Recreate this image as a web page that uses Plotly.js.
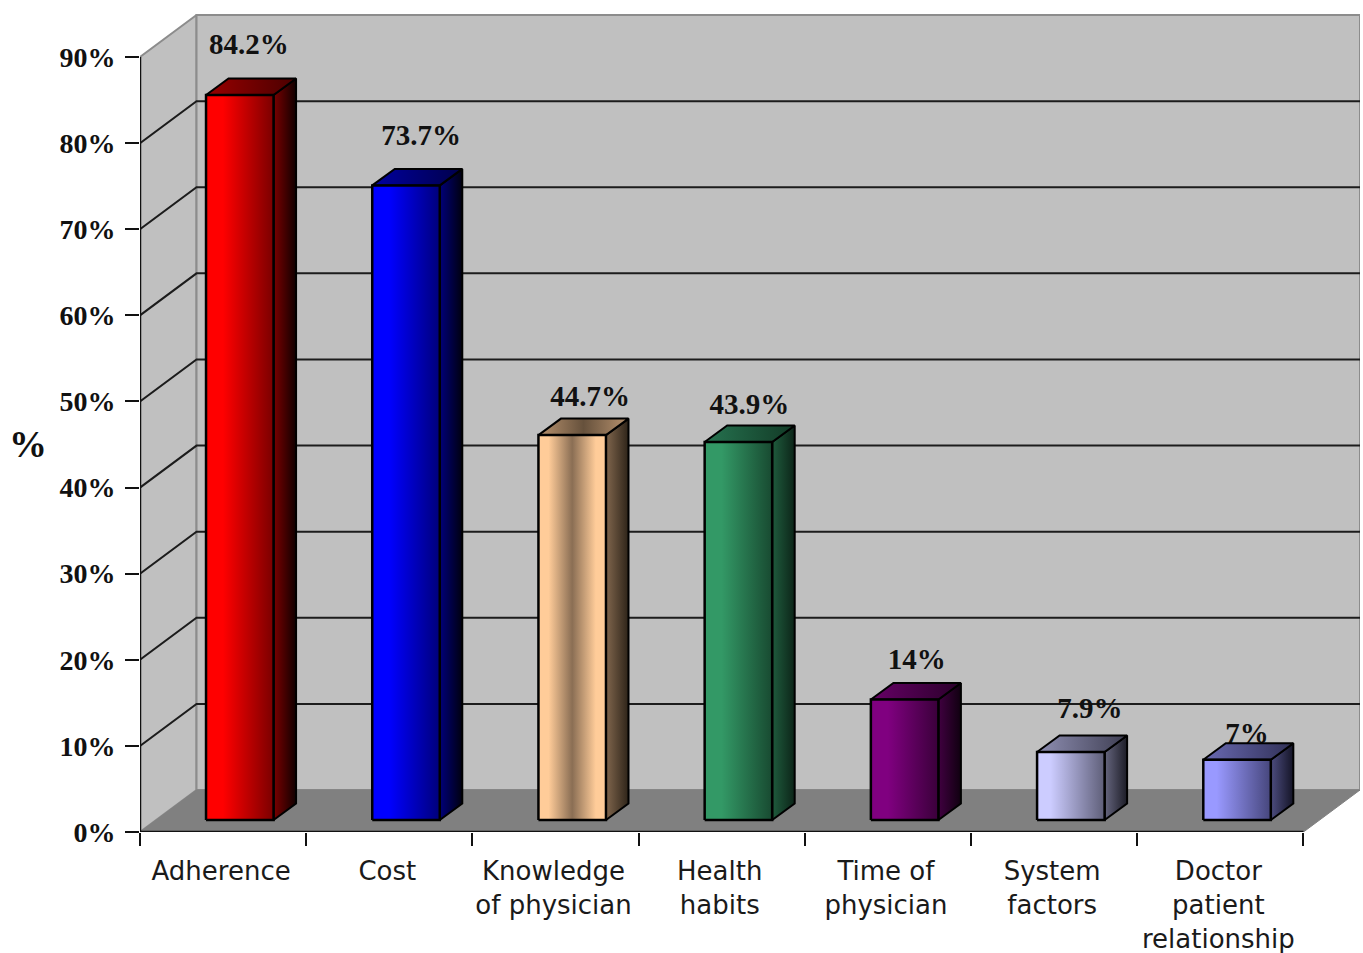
<!DOCTYPE html>
<html>
<head>
<meta charset="utf-8">
<script src="https://cdn.plot.ly/plotly-3.0.1.min.js"></script>
<style>html,body{margin:0;padding:0;background:#fff}#chart{width:1363px;height:953px}</style>
</head>
<body>
<div id="chart"></div>
<script>
// Reported barriers, percent of respondents
const categories = ['Adherence', 'Cost', 'Knowledge<br>of physician', 'Health<br>habits',
  'Time of<br>physician', 'System<br>factors', 'Doctor<br>patient<br>relationship'];
const values = [84.2, 73.7, 44.7, 43.9, 14, 7.9, 7];
const valueLabels = ['84.2%', '73.7%', '44.7%', '43.9%', '14%', '7.9%', '7%'];
const yTicks = [0, 10, 20, 30, 40, 50, 60, 70, 80, 90];
const yTickLabels = ['0%', '10%', '20%', '30%', '40%', '50%', '60%', '70%', '80%', '90%'];

// Colour stops per bar: front face, side face, top face
const frontStops = [
  [[0, '#ff0000'], [0.25, '#ff0000'], [1, '#7a0000']],
  [[0, '#0000ff'], [0.25, '#0000ff'], [1, '#00007a']],
  [[0, '#ffcc99'], [0.15, '#ffcc99'], [0.5, '#8a6e54'], [0.85, '#ffcc99'], [1, '#ffcc99']],
  [[0, '#339966'], [0.25, '#339966'], [1, '#184a31']],
  [[0, '#800080'], [0.25, '#800080'], [1, '#3a003a']],
  [[0, '#ccccff'], [0.2, '#ccccff'], [1, '#5e5e78']],
  [[0, '#9999ff'], [0.2, '#9999ff'], [1, '#46467c']]
];
const sideStops = [
  [[0, '#7a0000'], [1, '#100000']],
  [[0, '#00007a'], [1, '#000010']],
  [[0, '#80664d'], [1, '#2e2419']],
  [[0, '#1f5c3d'], [1, '#0c2418']],
  [[0, '#400040'], [1, '#100010']],
  [[0, '#66667f'], [1, '#1c1c26']],
  [[0, '#4d4d80'], [1, '#141426']]
];
const topStops = [
  [[0, '#990000'], [1, '#4a0000']],
  [[0, '#0000a0'], [1, '#00004a']],
  [[0, '#b8926e'], [0.5, '#66513c'], [1, '#b8926e']],
  [[0, '#267350'], [1, '#123a26']],
  [[0, '#660066'], [1, '#2a002a']],
  [[0, '#8f8fb3'], [1, '#3e3e52']],
  [[0, '#6a6ab3'], [1, '#303056']]
];

// Label placement relative to each bar's top, in pixels
const labelShiftX = [9, 15, 18, 11, 12, 19, 10];
const labelShiftY = [48, 48, 36, 35, 38, 41, 24];

// Pixel scale of the axes and the oblique projection
const pxPerCat = 166.14, pxPerVal = 8.611;
const cx = px => px / pxPerCat, cy = px => px / pxPerVal;
const wallDx = cx(56.5), wallDy = cy(42);
const barInsetX = cx(66), barInsetY = cy(12), barW = cx(67.5);
const barDx = cx(22.5), barDy = cy(16.5);
const nCat = categories.length;
const xMax = nCat + wallDx, yMax = 95;

function poly(xs, ys, fill, line, lineW, gradient) {
  const t = {
    type: 'scatter', mode: 'lines', x: xs.concat(xs[0]), y: ys.concat(ys[0]),
    fill: 'toself', line: {color: line, width: lineW}, hoverinfo: 'skip',
    showlegend: false, cliponaxis: false
  };
  if (gradient) t.fillgradient = {type: 'horizontal', colorscale: gradient};
  else t.fillcolor = fill;
  return t;
}
function path(xs, ys, color, w) {
  return {type: 'scatter', mode: 'lines', x: xs, y: ys, line: {color: color, width: w},
    hoverinfo: 'skip', showlegend: false, cliponaxis: false};
}

const traces = [];
const topTick = yTicks[yTicks.length - 1];

// Walls and floor
traces.push(poly([0, wallDx, wallDx, 0], [0, wallDy, topTick + wallDy, topTick], '#c0c0c0', '#8c8c8c', 2));
traces.push(poly([wallDx, xMax, xMax, wallDx], [wallDy, wallDy, topTick + wallDy, topTick + wallDy], '#c0c0c0', '#8c8c8c', 2));
traces.push(poly([0, nCat, xMax, wallDx], [0, 0, wallDy, wallDy], '#808080', '#808080', 1));

// Grid lines run up the left wall and across the back wall
const gx = [], gy = [];
yTicks.slice(1, -1).forEach(v => {
  gx.push(0, wallDx, xMax, null);
  gy.push(v, v + wallDy, v + wallDy, null);
});
traces.push(path(gx, gy, '#1c1c1c', 2));

// Value labels sit behind the bars
traces.push({
  type: 'scatter', mode: 'text', hoverinfo: 'skip', showlegend: false, cliponaxis: false,
  x: values.map((v, i) => i + barInsetX + barW / 2 + cx(labelShiftX[i])),
  y: values.map((v, i) => v + barInsetY + cy(labelShiftY[i])),
  text: valueLabels, textposition: 'middle center',
  textfont: {family: 'Liberation Serif', size: 29, weight: 700, color: '#111'}
});

// Bars: side, top, front
values.forEach((v, i) => {
  const x0 = i + barInsetX, x1 = x0 + barW, y0 = barInsetY, y1 = barInsetY + v;
  traces.push(poly([x1, x1 + barDx, x1 + barDx, x1], [y0, y0 + barDy, y1 + barDy, y1], null, '#000', 2, sideStops[i]));
  traces.push(poly([x0, x1, x1 + barDx, x0 + barDx], [y1, y1, y1 + barDy, y1 + barDy], null, '#000', 2, topStops[i]));
  traces.push(poly([x0, x1, x1, x0], [y0, y0, y1, y1], null, '#000', 2.5, frontStops[i]));
});

// Front axis lines
traces.push(path([0, nCat], [0, 0], '#111', 2.5));
traces.push(path([0, 0], [0, topTick], '#111', 2.5));

// Second x axis carries the centred category names
traces.push({type: 'scatter', mode: 'none', x: [0], y: [0], xaxis: 'x2', hoverinfo: 'skip', showlegend: false});

const layout = {
  width: 1363, height: 953, autosize: false,
  margin: {l: 140, r: 3, t: 14, b: 121, pad: 0},
  paper_bgcolor: '#fff', plot_bgcolor: '#fff', showlegend: false,
  xaxis: {
    range: [0, xMax], showgrid: false, zeroline: false, showline: false,
    tickmode: 'array', tickvals: categories.map((c, i) => i).concat(nCat),
    ticktext: categories.map(() => '').concat(''),
    ticks: 'outside', ticklen: 13, tickwidth: 2, tickcolor: '#111'
  },
  xaxis2: {
    overlaying: 'x', anchor: 'y', side: 'bottom', range: [0, xMax],
    showgrid: false, zeroline: false, showline: false,
    tickmode: 'array', tickvals: categories.map((c, i) => i + 0.5 - cx(2)), ticktext: categories,
    ticks: 'outside', ticklen: 16, tickcolor: 'rgba(0,0,0,0)', tickangle: 0,
    tickfont: {family: 'DejaVu Sans', size: 26, color: '#1a1a1a'}
  },
  yaxis: {
    range: [0, yMax], showgrid: false, zeroline: false, showline: false,
    tickmode: 'array', tickvals: yTicks, ticktext: yTickLabels,
    ticks: 'outside', ticklen: 14, tickwidth: 2, tickcolor: '#111', ticklabelstandoff: 4,
    tickfont: {family: 'Liberation Serif', size: 28, weight: 700, color: '#111'}
  },
  annotations: [{
    text: '%', xref: 'paper', yref: 'paper', x: -0.0918, y: 0.474,
    showarrow: false, xanchor: 'center', yanchor: 'middle',
    font: {family: 'Liberation Serif', size: 38, weight: 700, color: '#111'}
  }]
};

Plotly.newPlot('chart', traces, layout, {displayModeBar: false, staticPlot: true});
</script>
</body>
</html>
